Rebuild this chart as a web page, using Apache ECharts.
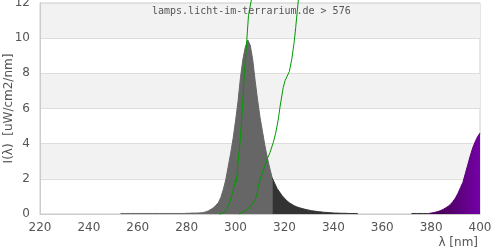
<!DOCTYPE html>
<html>
<head>
<meta charset="utf-8">
<script src="https://cdn.jsdelivr.net/npm/echarts@6/dist/echarts.min.js"></script>
<style>html,body{margin:0;padding:0;background:#fff}#c{width:500px;height:250px}</style>
</head>
<body>
<div id="c"></div>
<script>
// x tick labels / axis ranges
const xTicks = [220, 240, 260, 280, 300, 320, 340, 360, 380, 400];
const yTicks = [0, 2, 4, 6, 8, 10, 12];

// Spectrum (1 nm steps), region 253..315 nm (gray)
const grayStart = 253;
const grayVal = [
  0.03,0.03,0.03,0.03,0.03,0.03,0.03,0.03,0.03,0.03,
  0.03,0.03,0.03,0.03,0.03,0.03,0.03,0.03,0.03,0.03,
  0.03,0.03,0.03,0.03,0.03,0.03,0.03,
  0.04,0.04,0.05,0.05,0.05,0.06,0.07,0.09,0.13,0.19,
  0.27,0.36,0.5,0.65,0.95,1.4,1.95,2.7,3.45,4.3,
  5.3,6.4,7.75,8.8,9.5,9.9,9.6,8.8,7.6,6.5,
  5.5,4.7,3.9,3.2,2.6,2.05
];
// region 315..350 nm (dark)
const darkStart = 315;
const darkVal = [
  2.05,1.75,1.45,1.25,1.05,0.9,0.75,0.64,0.55,0.47,
  0.41,0.36,0.32,0.28,0.25,0.22,0.19,0.17,0.15,0.13,
  0.12,0.1,0.09,0.08,0.07,0.06,0.05,0.05,0.04,0.04,
  0.04,0.03,0.03,0.03,0.03,0.03
];
// region 372..379 nm (dark)
const dark2Start = 372;
const dark2Val = [0.03,0.03,0.03,0.03,0.03,0.03,0.03,0.03];
// region 379..400 nm (violet)
const violetStart = 379;
const violetVal = [
  0.03,0.05,0.08,0.11,0.15,0.2,0.27,0.35,0.44,0.56,
  0.72,0.92,1.18,1.5,1.8,2.3,2.8,3.3,3.75,4.1,4.4,4.6
];

// green curves
const curve1Nm = [293.5,295,296.5,297.7,298.8,299.6,300.0,300.2,300.5,301.2,301.8,302.8,303.6,304.6,305.3,306.5];
const curve1Val = [0,0.05,0.3,0.7,1.2,1.7,1.95,1.8,2.1,3.2,4.0,6.0,8.0,9.9,11.3,12.2];
const curve2Nm = [301.5,303,304.6,306.6,308,308.7,309.3,310,311.4,312.8,314.1,315.5,316.4,317.5,318.2,319.5,320.3,321,322,323,324,324.6,325.7];
const curve2Val = [0,0.1,0.23,0.51,0.8,1.08,1.55,1.93,2.5,3.07,3.5,4.1,4.6,5.4,6.1,7.2,7.6,7.8,8.1,8.8,9.8,10.6,12.2];

function pairs(start, vals){ return vals.map((v,i)=>[start+i, v]); }
function zip(xs, ys){ return xs.map((x,i)=>[x, ys[i]]); }

const chart = echarts.init(document.getElementById('c'), null, {renderer:'canvas'});
const FONT = 'DejaVu Sans';
function areaSeries(data, color, area){
  return {
    type:'line', data, symbol:'none', silent:true, animation:false,
    lineStyle:{color: color, width:1},
    areaStyle:{color: area || color, opacity:1},
    itemStyle:{color: color}
  };
}
chart.setOption({
  animation:false,
  title:{
    text:'lamps.licht-im-terrarium.de > 576',
    left:147, top:1,
    textStyle:{fontFamily:'DejaVu Sans Mono', fontSize:10, fontWeight:'normal', color:'#555'}
  },
  graphic:[{
    type:'text', right:22, top:237,
    style:{text:'λ [nm]', fontFamily:FONT, fontSize:12, fill:'#555'}
  }],
  grid:{left:40, right:20, top:3, bottom:36, containLabel:false, outerBoundsMode:'none',
        show:true, borderColor:'#ccc', borderWidth:1, backgroundColor:'rgba(0,0,0,0)'},
  xAxis:{
    type:'value', min:xTicks[0], max:xTicks[xTicks.length-1], interval:20,
    axisLine:{show:true, lineStyle:{color:'#ccc'}},
    axisTick:{show:false},
    splitLine:{show:false},
    axisLabel:{color:'#555', fontSize:12, fontFamily:FONT, margin:8}
  },
  yAxis:{
    type:'value', min:yTicks[0], max:yTicks[yTicks.length-1], interval:2,
    name:'I(λ)  [uW/cm2/nm]', nameLocation:'middle', nameGap:25, nameMoveOverlap:false,
    nameTextStyle:{color:'#555', fontSize:12, fontFamily:FONT},
    axisLine:{show:true, lineStyle:{color:'#ccc'}},
    axisTick:{show:false},
    splitLine:{show:true, lineStyle:{color:'#ddd', width:1}},
    splitArea:{show:true, areaStyle:{color:['rgba(255,255,255,0)','#f2f2f2']}},
    axisLabel:{color:'#555', fontSize:12, fontFamily:FONT, margin:10}
  },
  series:[
    areaSeries(pairs(grayStart, grayVal), '#666666'),
    areaSeries(pairs(darkStart, darkVal), '#333333'),
    areaSeries(pairs(dark2Start, dark2Val), '#333333'),
    areaSeries(pairs(violetStart, violetVal), '#5a0078', {
      type:'linear', x:0, y:0, x2:1, y2:0,
      colorStops:[{offset:0, color:'#3c0042'},{offset:1, color:'#7400a6'}]
    }),
    {type:'line', data:zip(curve1Nm, curve1Val), symbol:'none', clip:false, silent:true,
     lineStyle:{color:'#009a00', width:1}},
    {type:'line', data:zip(curve2Nm, curve2Val), symbol:'none', clip:false, silent:true,
     lineStyle:{color:'#009a00', width:1}}
  ]
});
</script>
</body>
</html>
